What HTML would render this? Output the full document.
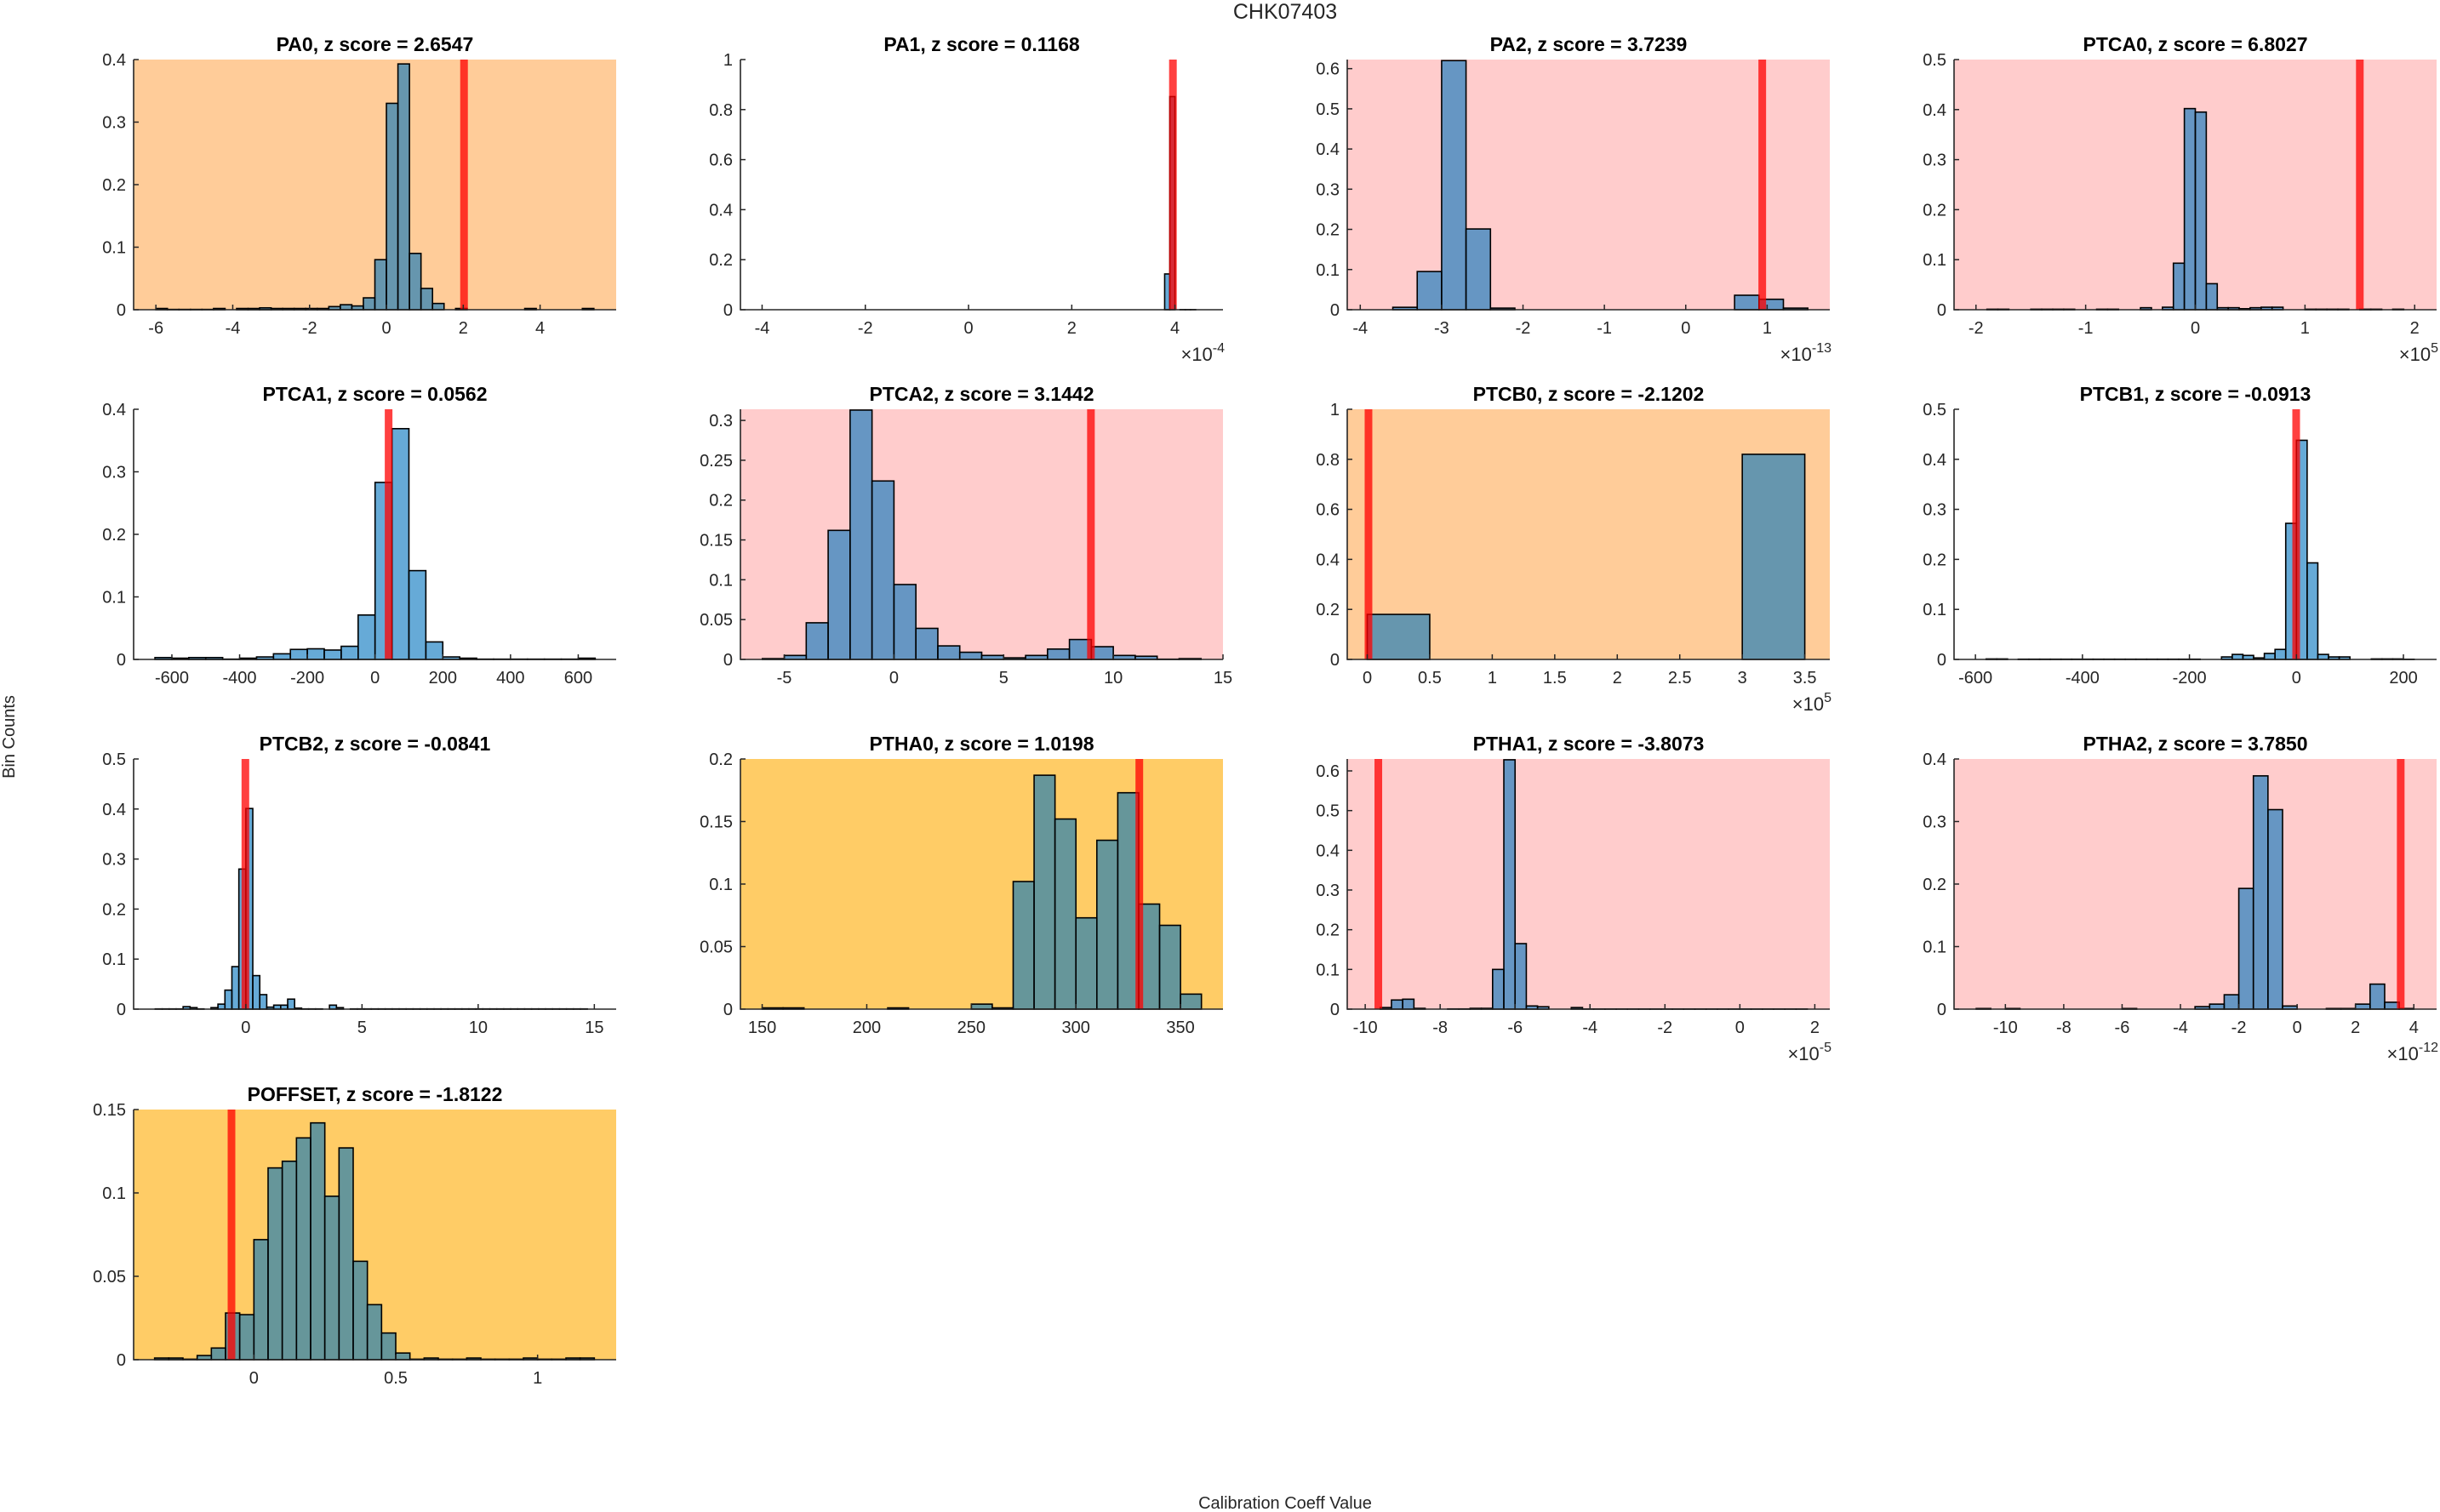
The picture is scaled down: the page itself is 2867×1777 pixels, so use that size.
<!DOCTYPE html>
<html><head><meta charset="utf-8"><title>CHK07403</title>
<style>
html,body{margin:0;padding:0;background:#fff;}
svg{display:block;font-family:"Liberation Sans",sans-serif;}
</style></head>
<body>
<svg id="fig" width="2867" height="1777" viewBox="0 0 2867 1777" xmlns="http://www.w3.org/2000/svg">
<text x="1510" y="22" font-size="25" text-anchor="middle" fill="#262626">CHK07403</text>
<text x="0" y="0" font-size="20" text-anchor="middle" fill="#262626" transform="translate(17,866) rotate(-90)">Bin Counts</text>
<text x="1510" y="1773" font-size="20" text-anchor="middle" fill="#262626">Calibration Coeff Value</text>
</svg>
<script>
// ---- data arrays (bin counts, normalized) ----
const pa0Counts = [0.002,0.0005,0.0005,0.0005,0.0005,0.002,0,0.002,0.002,0.003,0.002,0.002,0.002,0.002,0.002,0.005,0.008,0.006,0.019,0.08,0.33,0.393,0.09,0.034,0.01,0,0.002,0,0,0,0,0,0.002,0,0,0,0,0.002];
const pa1Counts = [0.143,0.852,0,0.0005,0.0005,0.0005];
const pa2Counts = [0,0.006,0.095,0.62,0.201,0.004,0,0,0,0,0,0,0,0,0,0.036,0.026,0.004];
const ptca0Counts = [0,0.001,0.001,0,0,0.001,0.001,0.001,0.001,0,0,0.001,0.001,0,0,0.004,0,0.005,0.093,0.402,0.395,0.052,0.004,0.004,0.002,0.004,0.005,0.005,0,0,0.001,0.001,0.001,0.001,0,0.001,0.001,0,0.001,0];
const ptca1Counts = [0.003,0.002,0.003,0.003,0.0005,0.002,0.004,0.009,0.016,0.017,0.015,0.021,0.071,0.283,0.369,0.142,0.028,0.004,0.002,0.0005,0.0005,0.0005,0.0005,0.0005,0.0005,0.002];
const ptca2Counts = [0.001,0.005,0.046,0.162,0.313,0.224,0.094,0.039,0.017,0.009,0.005,0.002,0.005,0.013,0.025,0.016,0.005,0.004,0.0003,0.001];
const ptcb0Counts = [0.18,0,0,0,0,0,0.82];
const ptcb1Counts = [0.001,0.001,0,0.0005,0.0005,0.0005,0.0005,0.0005,0.0005,0.0005,0.0005,0.0005,0.0005,0.0005,0.0005,0.0005,0.0005,0.0005,0.0005,0.0005,0,0,0.005,0.01,0.008,0.003,0.012,0.02,0.272,0.438,0.193,0.01,0.005,0.005,0,0,0.001,0.001,0.001,0.0003];
const ptcb2Counts = [0.0005,0.0005,0.0005,0.0005,0.005,0.003,0.0005,0,0.003,0.01,0.038,0.085,0.28,0.401,0.067,0.029,0.004,0.008,0.008,0.02,0.002,0.0005,0.0005,0.0005,0,0.008,0.003,0,0.0005,0.0005,0.0005,0.0005,0.0005,0.0005,0.0005,0.0005,0.0005,0.0005,0.0005,0.0005,0.0005,0.0005,0.0005,0.0005,0.0005,0.0005,0.0005,0.0005,0.0005,0.0005,0.0005,0.0005,0.0005,0.0005,0.0005,0.0005,0.0005,0.0005,0.0005,0.0005,0.0005,0.0005];
const ptha0Counts = [0.001,0.001,0,0,0,0,0.001,0,0,0,0.004,0.001,0.102,0.187,0.152,0.073,0.135,0.173,0.084,0.067,0.012];
const ptha1Counts = [0.004,0.023,0.025,0.002,0,0,0.0005,0.0005,0.002,0.002,0.1,0.628,0.165,0.008,0.006,0,0,0.004,0.0003,0.0003,0.0003,0.0003,0.0003,0.0003,0.0003,0.0003,0.0003,0.0003,0.0003,0.0003,0.0003,0.0003,0.0003,0.0003,0.0003,0.0003,0.0003,0.0003];
const ptha2Counts = [0.001,0,0.001,0,0,0,0,0,0,0,0.001,0,0,0,0,0.004,0.008,0.023,0.193,0.373,0.319,0.005,0,0,0.001,0.001,0.008,0.04,0.011,0.001];
const poffsetCounts = [0.001,0.001,0.0003,0.0025,0.007,0.028,0.027,0.072,0.115,0.119,0.133,0.142,0.098,0.127,0.059,0.033,0.016,0.004,0.0003,0.001,0.0003,0.0003,0.001,0.0003,0.0003,0.0003,0.001,0.0003,0.0003,0.001,0.001];

// bin starts & widths
const binStarts = [-6, 3.8, -3.9, -2.0, -650, -6, 0, -580, -3.9, 150, -9.6, -11, -0.35];
const binWidths = [0.3, 0.1, 0.3, 0.1, 50, 1, 0.5, 20, 0.3, 10, 0.3, 0.5, 0.05];
// reference (red line) values
const redValues = [2.02, 3.96, 0.94, 1.50, 40, 8.98, 0.01, -0.5, -0.02, 330.3, -9.65, 3.55, -0.079];
// titles
const panelNames = ["PA0","PA1","PA2","PTCA0","PTCA1","PTCA2","PTCB0","PTCB1","PTCB2","PTHA0","PTHA1","PTHA2","POFFSET"];
const zScores = ["2.6547","0.1168","3.7239","6.8027","0.0562","3.1442","-2.1202","-0.0913","-0.0841","1.0198","-3.8073","3.7850","-1.8122"];
// tick labels
const xTicks = [[-6,-4,-2,0,2,4],[-4,-2,0,2,4],[-4,-3,-2,-1,0,1],[-2,-1,0,1,2],[-600,-400,-200,0,200,400,600],[-5,0,5,10,15],[0,0.5,1,1.5,2,2.5,3,3.5],[-600,-400,-200,0,200],[0,5,10,15],[150,200,250,300,350],[-10,-8,-6,-4,-2,0,2],[-10,-8,-6,-4,-2,0,2,4],[0,0.5,1]];
const yTicks = [[0,0.1,0.2,0.3,0.4],[0,0.2,0.4,0.6,0.8,1],[0,0.1,0.2,0.3,0.4,0.5,0.6],[0,0.1,0.2,0.3,0.4,0.5],[0,0.1,0.2,0.3,0.4],[0,0.05,0.1,0.15,0.2,0.25,0.3],[0,0.2,0.4,0.6,0.8,1],[0,0.1,0.2,0.3,0.4,0.5],[0,0.1,0.2,0.3,0.4,0.5],[0,0.05,0.1,0.15,0.2],[0,0.1,0.2,0.3,0.4,0.5,0.6],[0,0.1,0.2,0.3,0.4],[0,0.05,0.1,0.15]];
const exponents = [null,"-4","-13","5",null,null,"5",null,null,null,"-5","-12",null];
// axis limits
const xMins = [-6.58,-4.42,-4.16,-2.2,-713,-7,-0.16,-640,-4.83,139.6,-10.48,-11.76,-0.424];
const xMaxs = [5.98,4.93,1.77,2.2,712,15,3.7,262,15.94,370.3,2.4,4.78,1.277];
const yMaxs = [0.4,1,0.6226,0.5,0.4,0.314,1,0.5,0.5,0.2,0.63,0.4,0.15];
const bgColors = ["#ffcc99","#ffffff","#ffcccc","#ffcccc","#ffffff","#ffcccc","#ffcc99","#ffffff","#ffffff","#ffcc66","#ffcccc","#ffcccc","#ffcc66"];
const allCounts = [pa0Counts,pa1Counts,pa2Counts,ptca0Counts,ptca1Counts,ptca2Counts,ptcb0Counts,ptcb1Counts,ptcb2Counts,ptha0Counts,ptha1Counts,ptha2Counts,poffsetCounts];

const NS = "http://www.w3.org/2000/svg";
const svg = document.getElementById("fig");
const colLeft = [157, 870, 1583, 2296];
const rowTop = [70, 481, 892, 1304];
const AW = 567, AH = 294;

function mk(tag, attrs, parent) {
  const e = document.createElementNS(NS, tag);
  for (const k in attrs) e.setAttribute(k, attrs[k]);
  parent.appendChild(e);
  return e;
}
function fmt(v) { return String(Math.round(v * 10000) / 10000); }

for (let p = 0; p < panelNames.length; p++) {
  const L = colLeft[p % 4], T = rowTop[Math.floor(p / 4)];
  const B = T + AH, R = L + AW;
  const xs = v => L + (v - xMins[p]) / (xMaxs[p] - xMins[p]) * AW;
  const ys = v => B - v / yMaxs[p] * AH;
  const key = panelNames[p].toLowerCase();

  const g = mk("g", {}, svg);
  
  

  const bg = mk("rect", {x: L, y: T, width: AW, height: AH, fill: bgColors[p]}, g);
  
  

  const counts = allCounts[p];
  for (let i = 0; i < counts.length; i++) {
    const x0 = xs(binStarts[p] + i * binWidths[p]);
    const x1 = xs(binStarts[p] + (i + 1) * binWidths[p]);
    const y0 = ys(Math.min(counts[i], yMaxs[p]));
    const bar = mk("rect", {x: x0, y: y0, width: x1 - x0, height: Math.max(B - y0, 0),
      fill: "rgba(0,114,189,0.6)", stroke: "#000", "stroke-width": 1.6}, g);
    
    
  }

  const rx = xs(redValues[p]);
  const red = mk("rect", {x: rx - 4.5, y: T, width: 9, height: AH, fill: "rgba(255,0,0,0.75)"}, g);
  
  

  const ax = mk("path", {d: `M${L},${T}V${B}H${R}`, fill: "none", stroke: "#262626", "stroke-width": 1.6}, g);
  
  

  xTicks[p].forEach(v => {
    const x = xs(v);
    const tk = mk("line", {x1: x, x2: x, y1: B, y2: B - 6, stroke: "#262626", "stroke-width": 1.5}, g);
    
    
    const t = mk("text", {x: x, y: B + 28, "font-size": 20, "text-anchor": "middle", fill: "#262626"}, g);
    
    
    t.textContent = fmt(v);
  });
  yTicks[p].forEach(v => {
    const y = ys(v);
    const tk = mk("line", {x1: L, x2: L + 6, y1: y, y2: y, stroke: "#262626", "stroke-width": 1.5}, g);
    
    
    const t = mk("text", {x: L - 9, y: y + 7, "font-size": 20, "text-anchor": "end", fill: "#262626"}, g);
    
    
    t.textContent = fmt(v);
  });

  const title = mk("text", {x: L + AW / 2, y: T - 10, "font-size": 23, "font-weight": "bold", "text-anchor": "middle", fill: "#000"}, g);
  
  
  title.textContent = panelNames[p] + ", z score = " + zScores[p];

  if (exponents[p]) {
    const ex = mk("text", {x: R + 2, y: B + 60, "font-size": 22, "text-anchor": "end", fill: "#262626"}, g);
    
    
    const a = mk("tspan", {}, ex);
    a.textContent = "\u00d710";
    const s = mk("tspan", {dy: -10, "font-size": 16}, ex);
    s.textContent = exponents[p];
  }
}
</script>
</body></html>
